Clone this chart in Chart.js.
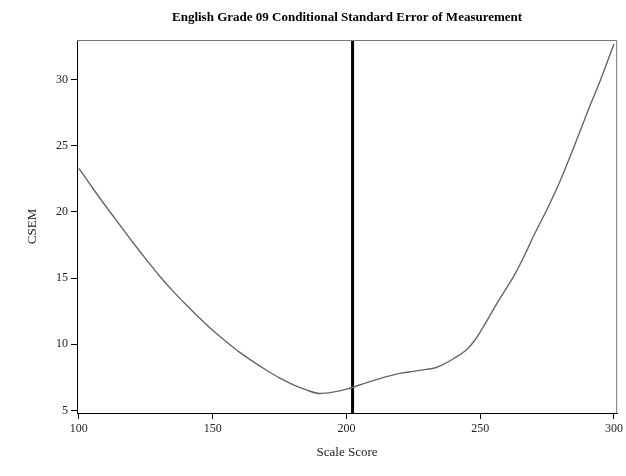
<!DOCTYPE html>
<html>
<head>
<meta charset="utf-8">
<script src="https://cdn.jsdelivr.net/npm/chart.js@4"></script>
<style>
  body { margin: 0; background: #fff; }
  #wrap { width: 626px; height: 476px; }
</style>
</head>
<body>
<div id="wrap"><canvas id="csemChart" width="626" height="476"></canvas></div>
<script>
// Scale score vs CSEM
const scaleScores = [100, 105, 110, 115, 120, 125, 130, 135, 140, 145, 150, 155, 160, 165, 170, 175, 180, 185, 190, 195,
    200, 205, 210, 215, 220, 225, 230, 233, 236, 240, 245, 248, 252, 256, 260, 263, 267, 270, 275, 280, 285, 290, 295, 300];
const csemValues = [23.3, 21.85, 20.45, 19.1, 17.75, 16.45, 15.2, 14.05, 13.0, 12.0, 11.05, 10.2, 9.4, 8.7, 8.05, 7.45, 6.95, 6.55, 6.27, 6.38,
    6.6, 6.92, 7.25, 7.55, 7.8, 7.95, 8.1, 8.2, 8.45, 8.9, 9.6, 10.3, 11.6, 13.0, 14.3, 15.3, 16.9, 18.2, 20.2, 22.4, 24.9, 27.5, 30.0, 32.7];
const cutScore = 202.3;

const xTicks = [100, 150, 200, 250, 300];
const yTicks = [5, 10, 15, 20, 25, 30];
const xRange = [99.3, 301.2];
const yRange = [4.8, 33.0];

const serif = "'Liberation Serif', 'DejaVu Serif', serif";

const curvePoints = scaleScores.map((s, i) => ({ x: s, y: csemValues[i] }));
const cutLine = [{ x: cutScore, y: yRange[0] }, { x: cutScore, y: yRange[1] }];

// grey frame on top and right of the plot
const frame = {
    id: 'frame',
    afterDraw(chart) {
        const a = chart.chartArea;
        const ctx = chart.ctx;
        ctx.save();
        ctx.strokeStyle = '#777';
        ctx.lineWidth = 1;
        ctx.beginPath();
        ctx.moveTo(a.left, a.top + 0.5);
        ctx.lineTo(a.right - 0.5, a.top + 0.5);
        ctx.lineTo(a.right - 0.5, a.bottom);
        ctx.stroke();
        ctx.restore();
    }
};

new Chart(document.getElementById('csemChart'), {
    type: 'line',
    data: {
        datasets: [{
            data: curvePoints,
            borderColor: '#666',
            borderWidth: 1.4,
            pointRadius: 0,
            cubicInterpolationMode: 'monotone'
        }, {
            data: cutLine,
            borderColor: '#000',
            borderWidth: 3,
            pointRadius: 0
        }]
    },
    options: {
        responsive: false,
        animation: false,
        layout: { padding: { left: 0, right: 5, top: 0, bottom: 0 } },
        plugins: {
            legend: { display: false },
            tooltip: { enabled: false },
            title: {
                display: true,
                fullSize: false,
                text: 'English Grade 09 Conditional Standard Error of Measurement',
                color: '#000',
                font: { family: serif, size: 13, weight: 'bold' },
                padding: { top: 10, bottom: 14.4 }
            }
        },
        scales: {
            x: {
                type: 'linear',
                min: xRange[0],
                max: xRange[1],
                afterBuildTicks: s => { s.ticks = xTicks.map(v => ({ value: v })); },
                afterFit: s => { s.height = 63; },
                grid: { drawOnChartArea: false, drawTicks: true, tickLength: 6, color: '#000' },
                border: { color: '#000', width: 1 },
                ticks: { color: '#222', font: { family: serif, size: 12 }, padding: 3, maxRotation: 0 },
                title: { display: true, text: 'Scale Score', color: '#222', font: { family: serif, size: 13 }, padding: { top: 0, bottom: 16 } }
            },
            y: {
                type: 'linear',
                min: yRange[0],
                max: yRange[1],
                afterBuildTicks: s => { s.ticks = yTicks.map(v => ({ value: v })); },
                afterFit: s => { s.width = 77; },
                grid: { drawOnChartArea: false, drawTicks: true, tickLength: 6, color: '#000' },
                border: { color: '#000', width: 1 },
                ticks: { color: '#222', font: { family: serif, size: 12 }, padding: 3 },
                title: { display: true, text: 'CSEM', color: '#222', font: { family: serif, size: 13 }, padding: { top: 25, bottom: 0 } }
            }
        }
    },
    plugins: [frame]
});
</script>
</body>
</html>
